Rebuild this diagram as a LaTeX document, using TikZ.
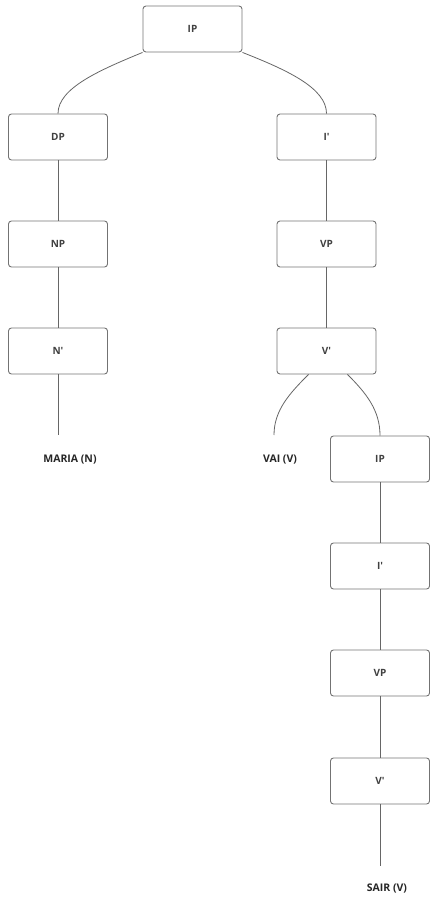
\documentclass[tikz,border=0pt]{standalone}
\usepackage{fontspec}
\setmainfont{Open Sans}
\begin{document}
\begin{tikzpicture}[x=1pt,y=-1pt,
  box/.style={draw=black!55,line width=0.9pt,rounded corners=3pt,minimum width=99pt,minimum height=46pt,inner sep=0pt,text=black!75,font=\fontsize{10}{12}\selectfont\bfseries},
  leaf/.style={inner sep=0pt,text=black!85,font=\fontsize{10.5}{12}\selectfont\bfseries},
  edge/.style={draw=black!60,line width=0.8pt}]
\useasboundingbox (0,0) rectangle (440,904);
\node[box] (ip) at (192.5,29) {IP};
\node[box] (dp) at (58,137) {DP};
\node[box] (np) at (58,244) {NP};
\node[box] (nb) at (58,351) {N\textquotesingle};
\node[box] (ib) at (326.5,137) {I\textquotesingle};
\node[box] (vp) at (326.5,244) {VP};
\node[box] (vb) at (326.5,351) {V\textquotesingle};
\node[box] (ip2) at (380,459) {IP};
\node[box] (ib2) at (380,566) {I\textquotesingle};
\node[box] (vp2) at (380,673) {VP};
\node[box] (vb2) at (380,781) {V\textquotesingle};
\node[leaf] (maria) at (70,460) {MARIA (N)};
\node[leaf] (vai) at (280,460) {VAI (V)};
\node[leaf] (sair) at (387,889) {SAIR (V)};
\coordinate (me) at (58,435);
\coordinate (ve) at (274,435);
\coordinate (se) at (380,866);
\draw[edge] (ip.south west) .. controls (100,70) and (58,88) .. (dp.north);
\draw[edge] (ip.south east) .. controls (287,70) and (326.5,88) .. (ib.north);
\draw[edge] (dp) -- (np);
\draw[edge] (np) -- (nb);
\draw[edge] (nb.south) -- (me);
\draw[edge] (ib) -- (vp);
\draw[edge] (vp) -- (vb);
\draw[edge] ([xshift=-18pt]vb.south) .. controls (290,393) and (274,410) .. (ve);
\draw[edge] ([xshift=21pt]vb.south) .. controls (366,393) and (380,410) .. (ip2.north);
\draw[edge] (ip2) -- (ib2);
\draw[edge] (ib2) -- (vp2);
\draw[edge] (vp2) -- (vb2);
\draw[edge] (vb2.south) -- (se);
\end{tikzpicture}
\end{document}
